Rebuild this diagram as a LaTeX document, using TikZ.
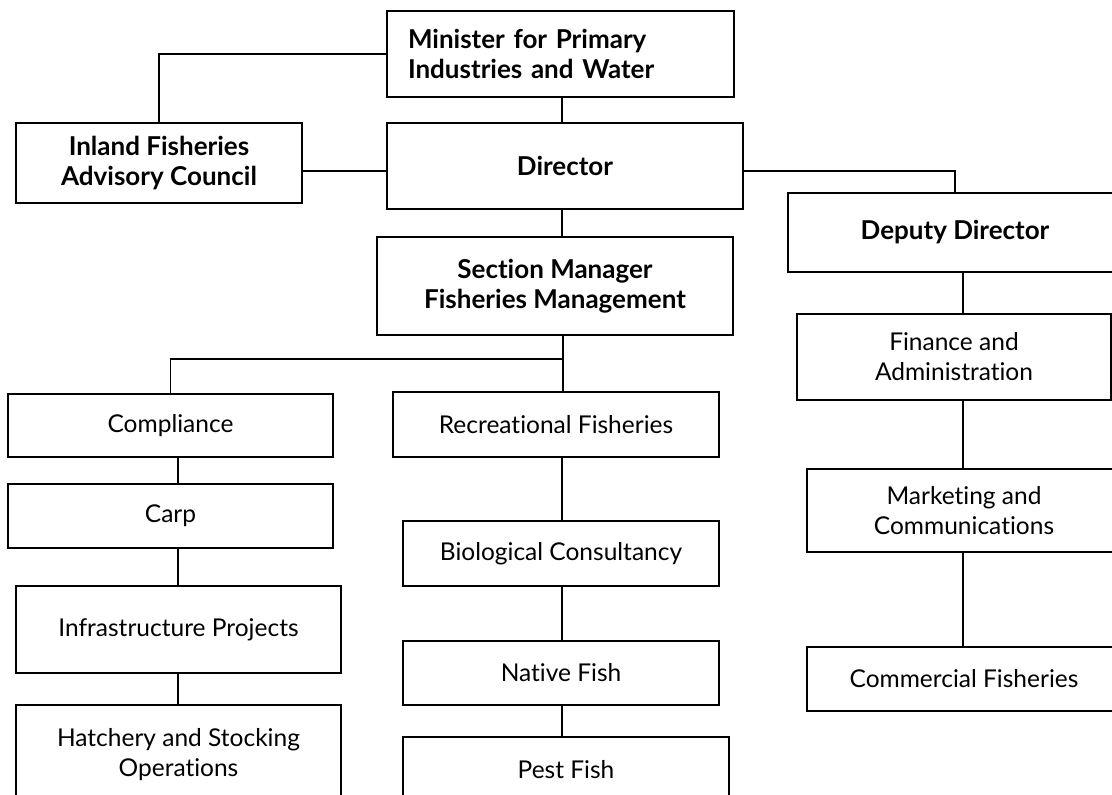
\documentclass[tikz,border=0pt]{standalone}
\usepackage{fontspec}
\setmainfont{Lato}[Ligatures=NoCommon]
\begin{document}
\begin{tikzpicture}[x=1pt,y=-1pt,
  box/.style={draw=black, line width=1.6pt, inner sep=0pt, align=center,
    font=\fontsize{24.5}{30}\selectfont},
  bbox/.style={box, font=\bfseries\fontsize{26}{30}\selectfont},
  conn/.style={line width=1.4pt}]
\useasboundingbox (0,0) rectangle (1112,795);
\clip (0,0) rectangle (1112,795);
% top level
\node[bbox, text width=305pt, align=left, inner xsep=21pt, minimum height=86pt] (min) at (560.5,54) {Minister for Primary\\Industries and Water};
\node[bbox, minimum width=286pt, minimum height=80pt] (ifac) at (159,163) {Inland Fisheries\\Advisory Council};
\node[bbox, minimum width=356pt, minimum height=86pt] (dir) at (565,166) {Director};
\node[bbox, minimum width=334pt, minimum height=79pt] (dep) at (955,232.5) {Deputy Director};
\node[bbox, minimum width=356pt, minimum height=98pt] (sec) at (555,286) {Section Manager\\Fisheries Management};
% left column
\node[box, minimum width=325pt, minimum height=63pt] (comp) at (170.5,425.5) {Compliance};
\node[box, minimum width=325pt, minimum height=64pt] (carp) at (170.5,516) {Carp};
\node[box, minimum width=325pt, minimum height=87pt] (infra) at (178.5,629.5) {Infrastructure Projects};
\node[box, minimum width=325pt, minimum height=100pt] (hat) at (178.5,755) {Hatchery and Stocking\\Operations};
% middle column
\node[box, minimum width=326pt, minimum height=65pt] (rec) at (556,424.5) {Recreational Fisheries};
\node[box, minimum width=316pt, minimum height=65pt] (bio) at (561,553.5) {Biological Consultancy};
\node[box, minimum width=316pt, minimum height=64pt] (nat) at (561,673) {Native Fish};
\node[box, minimum width=326pt, minimum height=66pt] (pest) at (566,770) {Pest Fish};
% right column
\node[box, minimum width=314pt, minimum height=86pt] (fin) at (954,357) {Finance and\\Administration};
\node[box, minimum width=314pt, minimum height=83pt] (mkt) at (964,510.5) {Marketing and\\Communications};
\node[box, minimum width=314pt, minimum height=64pt] (com) at (964,679) {Commercial Fisheries};
% helper coordinates
\coordinate (hl) at (0,171);
\coordinate (tc) at (562,0);
\coordinate (j1) at (563,359);
\coordinate (lc) at (178,0);
\coordinate (mc) at (562,0);
\coordinate (rc) at (963,0);
% connectors
\draw[conn] (min.west) -| (ifac.north);
\draw[conn] (ifac.east |- hl) -- (dir.west |- hl);
\draw[conn] (dir.east |- hl) -| (dep.north);
\draw[conn] (tc |- min.south) -- (tc |- dir.north);
\draw[conn] (tc |- dir.south) -- (tc |- sec.north);
\draw[conn] (j1 |- sec.south) -- (j1 |- rec.north);
\draw[conn] (j1) -| (comp.north);
\draw[conn] (lc |- comp.south) -- (lc |- carp.north);
\draw[conn] (lc |- carp.south) -- (lc |- infra.north);
\draw[conn] (lc |- infra.south) -- (lc |- hat.north);
\draw[conn] (mc |- rec.south) -- (mc |- bio.north);
\draw[conn] (mc |- bio.south) -- (mc |- nat.north);
\draw[conn] (mc |- nat.south) -- (mc |- pest.north);
\draw[conn] (rc |- dep.south) -- (rc |- fin.north);
\draw[conn] (rc |- fin.south) -- (rc |- mkt.north);
\draw[conn] (rc |- mkt.south) -- (rc |- com.north);
\end{tikzpicture}
\end{document}
